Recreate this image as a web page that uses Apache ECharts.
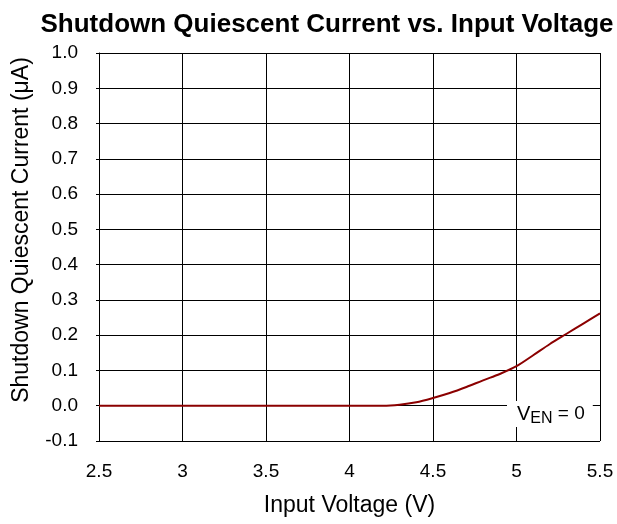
<!DOCTYPE html>
<html>
<head>
<meta charset="utf-8">
<script src="https://cdn.jsdelivr.net/npm/echarts@6/dist/echarts.min.js"></script>
<style>html,body{margin:0;padding:0;background:#fff;}#c{width:617px;height:524px;}</style>
</head>
<body>
<div id="c"></div>
<script>
var voltage = [2.5, 3.0, 3.5, 4.0, 4.2, 4.3, 4.4, 4.5, 4.6, 4.7, 4.8, 4.9, 5.0, 5.1, 5.2, 5.3, 5.4, 5.5];
var current = [0, 0, 0, 0, 0, 0.003, 0.01, 0.022, 0.036, 0.053, 0.072, 0.09, 0.112, 0.143, 0.175, 0.204, 0.233, 0.262];
var title = 'Shutdown Quiescent Current vs. Input Voltage';
var xName = 'Input Voltage (V)';
var yName = 'Shutdown Quiescent Current (\u03bcA)';

var chart = echarts.init(document.getElementById('c'), null, {renderer: 'canvas'});
var font = 'Arial, "Liberation Sans", sans-serif';
chart.setOption({
  backgroundColor: '#fff',
  animation: false,
  title: {
    text: title, left: 322, top: 7, textAlign: 'center',
    textStyle: {fontFamily: font, fontSize: 26, fontWeight: 'bold', color: '#000'}
  },
  grid: {left: 99, right: 17, top: 53, bottom: 83, containLabel: false},
  xAxis: {
    type: 'value', min: 2.5, max: 5.5, interval: 0.5,
    name: xName, nameLocation: 'middle', nameGap: 53,
    nameTextStyle: {fontFamily: font, fontSize: 23, color: '#000', verticalAlign: 'top', lineHeight: 24},
    axisLine: {show: true, lineStyle: {color: '#000', width: 1}},
    axisTick: {show: false},
    axisLabel: {fontFamily: font, fontSize: 19, color: '#000', margin: 21},
    splitLine: {show: true, lineStyle: {color: '#000', width: 1}}
  },
  yAxis: {
    type: 'value', min: -0.1, max: 1.0, interval: 0.1,
    axisLine: {show: true, lineStyle: {color: '#000', width: 1}},
    axisTick: {show: true, length: 3, lineStyle: {color: '#000'}},
    axisLabel: {fontFamily: font, fontSize: 19, color: '#000', margin: 21,
      formatter: function (v) { return (Math.round(v * 10) / 10).toFixed(1); }},
    splitLine: {show: true, lineStyle: {color: '#000', width: 1}}
  },
  graphic: [
    {type: 'text', x: 22, y: 230, rotation: Math.PI / 2,
     style: {text: yName, fontFamily: font, fontSize: 23, fill: '#000', align: 'center', verticalAlign: 'middle'}},
    {type: 'text', x: 507, y: 401, z: 100,
     style: {
       rich: {
         v: {fontFamily: font, fontSize: 20, fill: '#000', lineHeight: 26, verticalAlign: 'middle'},
         s: {fontFamily: font, fontSize: 16, fill: '#000', lineHeight: 26, verticalAlign: 'bottom', padding: [9, 0, 0, 0]},
         n: {fontFamily: font, fontSize: 19, fill: '#000', lineHeight: 26, verticalAlign: 'middle'}
       },
       text: '{v|V}{s|EN}{n| = 0}',
       backgroundColor: '#fff', padding: [0, 8, 0, 10]
     }}
  ],
  series: [{
    type: 'line', data: voltage.map(function (v, i) { return [v, current[i]]; }),
    showSymbol: false, smooth: 0.3, clip: false,
    lineStyle: {color: '#8b0000', width: 2}, z: 5
  }]
});
</script>
</body>
</html>
